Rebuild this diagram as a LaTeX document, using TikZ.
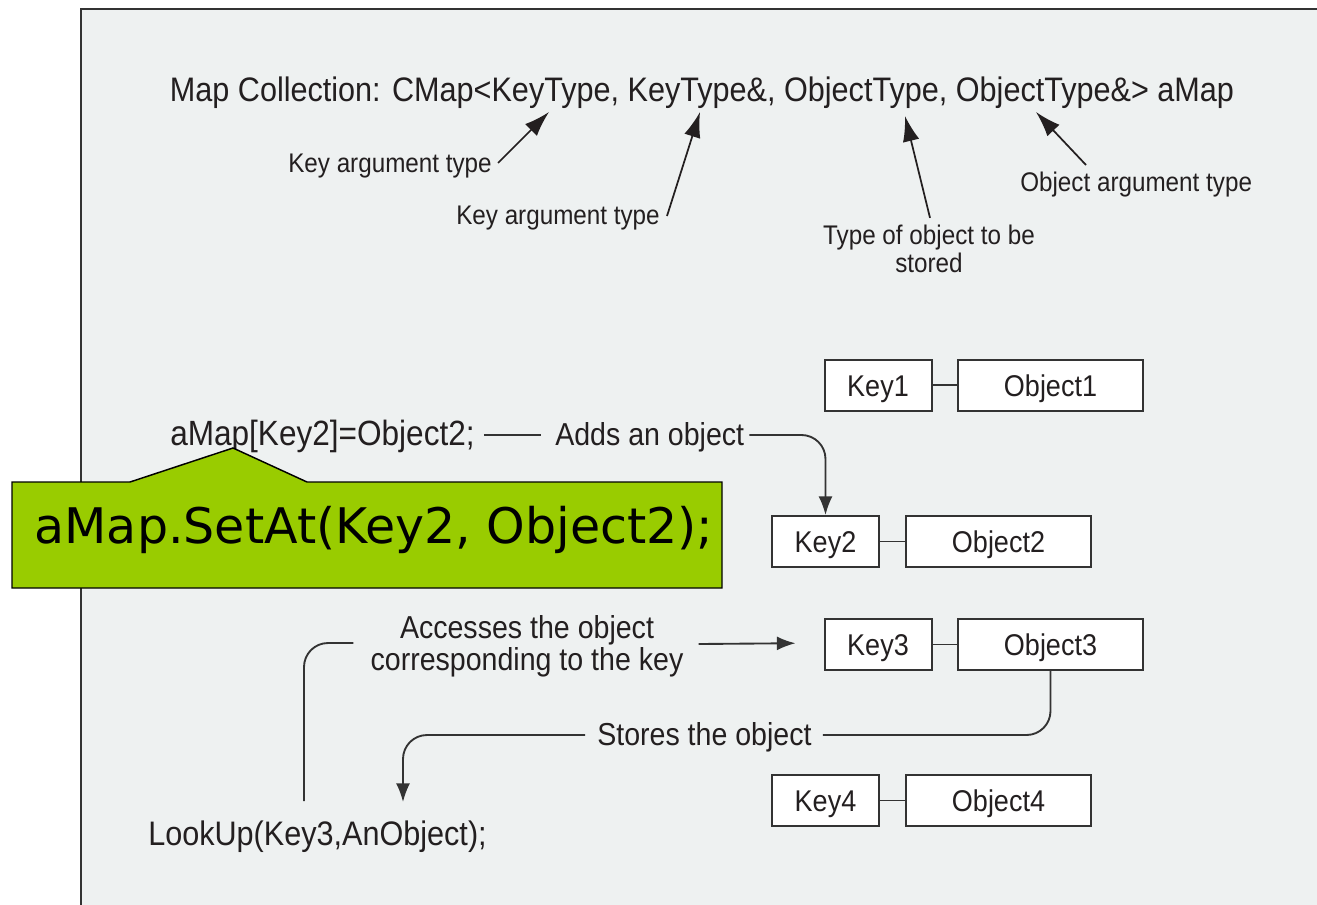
\documentclass[tikz,border=0pt]{standalone}
\usepackage{fontspec}
\setmainfont{Liberation Sans}[FakeStretch=0.9]
\newfontfamily\calloutfont{DejaVu Sans}
\usetikzlibrary{arrows.meta,calc}
\definecolor{panelbg}{HTML}{EEF1F1}
\definecolor{ink}{HTML}{231F20}
\definecolor{edge}{HTML}{333333}
\definecolor{callgreen}{HTML}{99CC00}

\begin{document}
\begin{tikzpicture}[x=0.75pt,y=-0.75pt,
  txt/.style={inner sep=0pt, text=ink},
  code/.style={txt, font=\fontsize{25.5pt}{30pt}\selectfont},
  midlab/.style={txt, font=\fontsize{23.8pt}{24pt}\selectfont, align=center},
  smalllab/.style={txt, font=\fontsize{20.2pt}{21pt}\selectfont, align=center},
  keybox/.style={draw=edge, line width=1.5pt, fill=white, text=ink,
    minimum width=80.25pt, minimum height=38.25pt, inner sep=0pt,
    text height=21.2pt, text depth=4.5pt,
    font=\fontsize{22.5pt}{24pt}\selectfont},
  objbox/.style={keybox, minimum width=138.75pt},
  link/.style={draw=edge, line width=1.4pt},
  pointer/.style={draw=ink, line width=1.3pt, -{Latex[length=19pt,width=12.5pt]}},
  flow/.style={draw=edge, line width=1.4pt, rounded corners=18pt,
    -{Latex[length=14pt,width=10.5pt]}},
]
% page and panel
\fill[white] (0,0) rectangle (1317,904);
\useasboundingbox (0,0) rectangle (1317,904);
\clip (0,0) rectangle (1317,904);
\filldraw[fill=panelbg, draw=edge, line width=1.5pt] (81,9) rectangle (1340,930);

% template declaration and its annotations
\node[code, anchor=base] (title) at (702,101)
  {Map Collection: CMap<KeyType, KeyType\&, ObjectType, ObjectType\&> aMap};

\node[smalllab, anchor=base east] (lab1) at (492,172) {Key argument type};
\node[smalllab, anchor=base east] (lab2) at (660,224) {Key argument type};
\node[smalllab] (lab3) at (929,249)
  {\fontsize{20.2pt}{21pt}\selectfont Type of object to be\\stored};
\node[smalllab, anchor=base west] (lab4) at (1020,191) {Object argument type};

\coordinate (t1) at (549,112);
\coordinate (t2) at (700,112);
\coordinate (t3) at (905,116);
\coordinate (t4) at (1036,112);

\draw[pointer] ($(lab1.base east)+(6,-9)$) -- (t1);
\draw[pointer] ($(lab2.base east)+(7,-8)$) -- (t2);
\draw[pointer] ($(lab3.north)+(1,-7)$) -- (t3);
\draw[pointer] ($(lab4.base west)+(66,-26)$) -- (t4);

% key / object pairs
\node[keybox] (key1) at (878,385) {Key1};
\node[objbox] (obj1) at (1050.5,385) {Object1};
\node[keybox] (key2) at (825.5,541.5) {Key2};
\node[objbox] (obj2) at (998.5,541.5) {Object2};
\node[keybox] (key3) at (878,644.5) {Key3};
\node[objbox] (obj3) at (1050.5,644.5) {Object3};
\node[keybox] (key4) at (825.5,800.5) {Key4};
\node[objbox] (obj4) at (998.5,800.5) {Object4};
\draw[link] (key1) -- (obj1);
\draw[link] (key2) -- (obj2);
\draw[link] (key3) -- (obj3);
\draw[link] (key4) -- (obj4);

% insertion
\node[code, anchor=base west, font=\fontsize{26.3pt}{30pt}\selectfont] (amap) at (170,445)
  {aMap[Key2]=Object2;};
\node[midlab, anchor=base west] (adds) at (555,445) {Adds an object};
\draw[link] ($(amap.base east)+(9,-10)$) -- ($(adds.base west)+(-14,-10)$);
\draw[flow] ($(adds.base east)+(5,-10)$) -| (key2.north);

% lookup
\node[midlab] (access) at (527,646)
  {\fontsize{23.8pt}{24pt}\selectfont Accesses the object\\corresponding to the key};
\draw[flow, shorten >=21pt] ($(access.east)+(15,-2)$) -- (key3.west |- 0,643);
\node[code, anchor=base west] (lookup) at (148,845) {LookUp(Key3,AnObject);};
\coordinate (lkA) at (304,801);
\draw[link, rounded corners=18pt] (lkA) |- ($(access.west)+(-17,-3)$);

\node[midlab, anchor=base west] (stores) at (597,745) {Stores the object};
\draw[link, rounded corners=18pt] (obj3.south) |- ($(stores.base east)+(11,-10)$);
\coordinate (lkB) at (403,802);
\draw[flow] ($(stores.base west)+(-12,-10)$) -| (lkB);

% callout
\filldraw[fill=callgreen, draw=black, line width=1.1pt]
  (12,482) -- (130,482) -- (233,448) -- (307,482) -- (722,482)
  -- (722,588) -- (12,588) -- cycle;
\node[inner sep=0pt, anchor=base, text=black,
  font=\calloutfont\fontsize{36.8pt}{40pt}\selectfont] (setat) at (374,543)
  {aMap.SetAt(Key2, Object2);};
\end{tikzpicture}
\end{document}
